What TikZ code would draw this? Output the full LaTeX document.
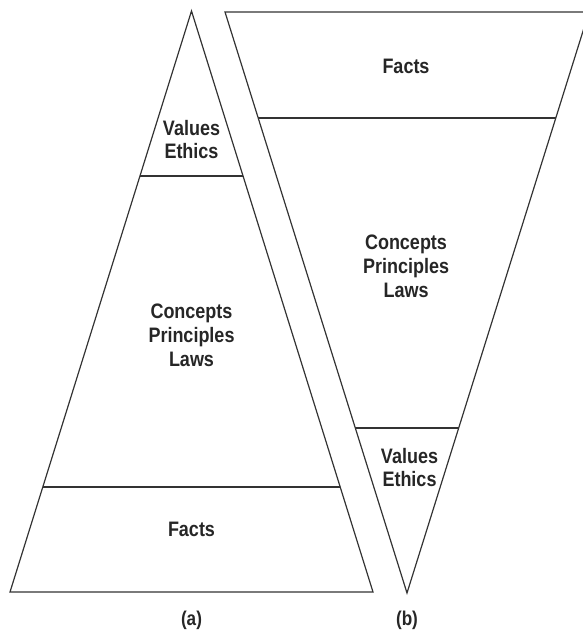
\documentclass[tikz,border=0pt]{standalone}
\usepackage{fontspec}
\setmainfont{Liberation Sans}[FakeStretch=0.86]
\usepackage{tikz}
\usetikzlibrary{positioning}

\begin{document}
\begin{tikzpicture}[x=1bp, y=-1bp,
    edge/.style={draw=black!80, line width=1.2bp, line join=miter},
    lbl/.style={inner sep=0pt, align=center, text=black!85,
        font=\bfseries\fontsize{21}{24}\selectfont},
    sublbl/.style={inner sep=0pt, text=black!85,
        font=\bfseries\fontsize{20}{24}\selectfont}]
    \useasboundingbox (0,0) rectangle (583,631);

    % Pyramid (a)
    \coordinate (apexA) at (191.5,11);
    \coordinate (blA) at (10,592);
    \coordinate (brA) at (373,592);
    \coordinate (upLA) at (140,176);
    \coordinate (upRA) at (243,176);
    \coordinate (loLA) at (42.8,487);
    \coordinate (loRA) at (340.2,487);
    \draw[edge] (apexA) -- (brA) -- (blA) -- cycle;
    \draw[edge] (upLA) -- (upRA);
    \draw[edge] (loLA) -- (loRA);
    \node[lbl] (valA) at (191.5,139.5) {Values\\Ethics};
    \node[lbl] (conA) at (191.5,335) {Concepts\\Principles\\Laws};
    \node[lbl] (facA) at (191.5,529.5) {Facts};
    \node[sublbl] (capA) at (191.5,620) {(a)};

    % Inverted pyramid (b)
    \coordinate (tlB) at (225,12);
    \coordinate (trB) at (589,12);
    \coordinate (apexB) at (407,593);
    \coordinate (upLB) at (258.2,118);
    \coordinate (upRB) at (555.8,118);
    \coordinate (loLB) at (355.3,428);
    \coordinate (loRB) at (458.7,428);
    \draw[edge] (tlB) -- (trB) -- (apexB) -- cycle;
    \draw[edge] (upLB) -- (upRB);
    \draw[edge] (loLB) -- (loRB);
    \node[lbl] (facB) at (406,66) {Facts};
    \node[lbl] (conB) at (406,266.5) {Concepts\\Principles\\Laws};
    \node[lbl] (valB) at (409.5,467.5) {Values\\Ethics};
    \node[sublbl] (capB) at (407,620) {(b)};
\end{tikzpicture}
\end{document}
